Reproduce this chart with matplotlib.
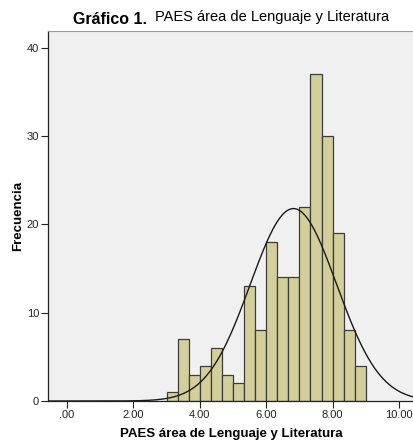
import numpy as np
import matplotlib.pyplot as plt

plt.rcParams["font.family"] = ["Liberation Sans", "DejaVu Sans"]

# histogram bins (width 1/3) from 3.00 to 9.00
BIN_START = 3.0
BIN_WIDTH = 1.0 / 3.0
counts = [1, 7, 3, 4, 6, 3, 2, 13, 8, 18, 14, 14, 22, 37, 30, 19, 8, 4]

# fitted normal curve parameters
mean = 6.82
sd = 1.30
n_total = sum(counts)

x_ticks = [0, 2, 4, 6, 8, 10]
x_ticklabels = [".00", "2.00", "4.00", "6.00", "8.00", "10.00"]
y_ticks = [0, 10, 20, 30, 40]

edges = BIN_START + BIN_WIDTH * np.arange(len(counts) + 1)

fig = plt.figure(figsize=(4.14, 4.42), dpi=100)
ax = fig.add_axes([48 / 414, 41 / 442, 366 / 414, 370 / 442])
ax.set_facecolor("#f0f0f0")

ax.bar(edges[:-1], counts, width=BIN_WIDTH, align="edge",
       color="#d3cf9a", edgecolor="#3c3c3c", linewidth=0.9, zorder=2)

xs = np.linspace(-0.6, 10.6, 500)
ys = n_total * BIN_WIDTH * np.exp(-0.5 * ((xs - mean) / sd) ** 2) / (sd * np.sqrt(2 * np.pi))
ax.plot(xs, ys, color="#1a1a1a", linewidth=1.0, zorder=3)

ax.set_xlim(-0.57, 10.45)
ax.set_ylim(0, 41.9)
ax.set_xticks(x_ticks)
ax.set_xticklabels(x_ticklabels)
ax.set_yticks(y_ticks)
ax.tick_params(axis="both", direction="out", length=5, width=0.8,
               labelsize=8, colors="#222222", pad=1.5)

for s in ["left", "bottom"]:
    ax.spines[s].set_color("#222222")
    ax.spines[s].set_linewidth(0.9)
ax.spines["right"].set_visible(False)
ax.spines["top"].set_color("#9a9a9a")

ax.set_xlabel("PAES área de Lenguaje y Literatura", fontsize=9.5,
              fontweight="bold", labelpad=6)
ax.set_ylabel("Frecuencia", fontsize=9.5, fontweight="bold", labelpad=2)

fig.text(73 / 414, 1 - 24 / 442, "Gráfico 1.", fontsize=11.5, fontweight="bold",
         ha="left", va="baseline")
fig.text(155 / 414, 1 - 21 / 442, "PAES área de Lenguaje y Literatura",
         fontsize=10.5, ha="left", va="baseline")

fig.savefig("out.png", dpi=100)
